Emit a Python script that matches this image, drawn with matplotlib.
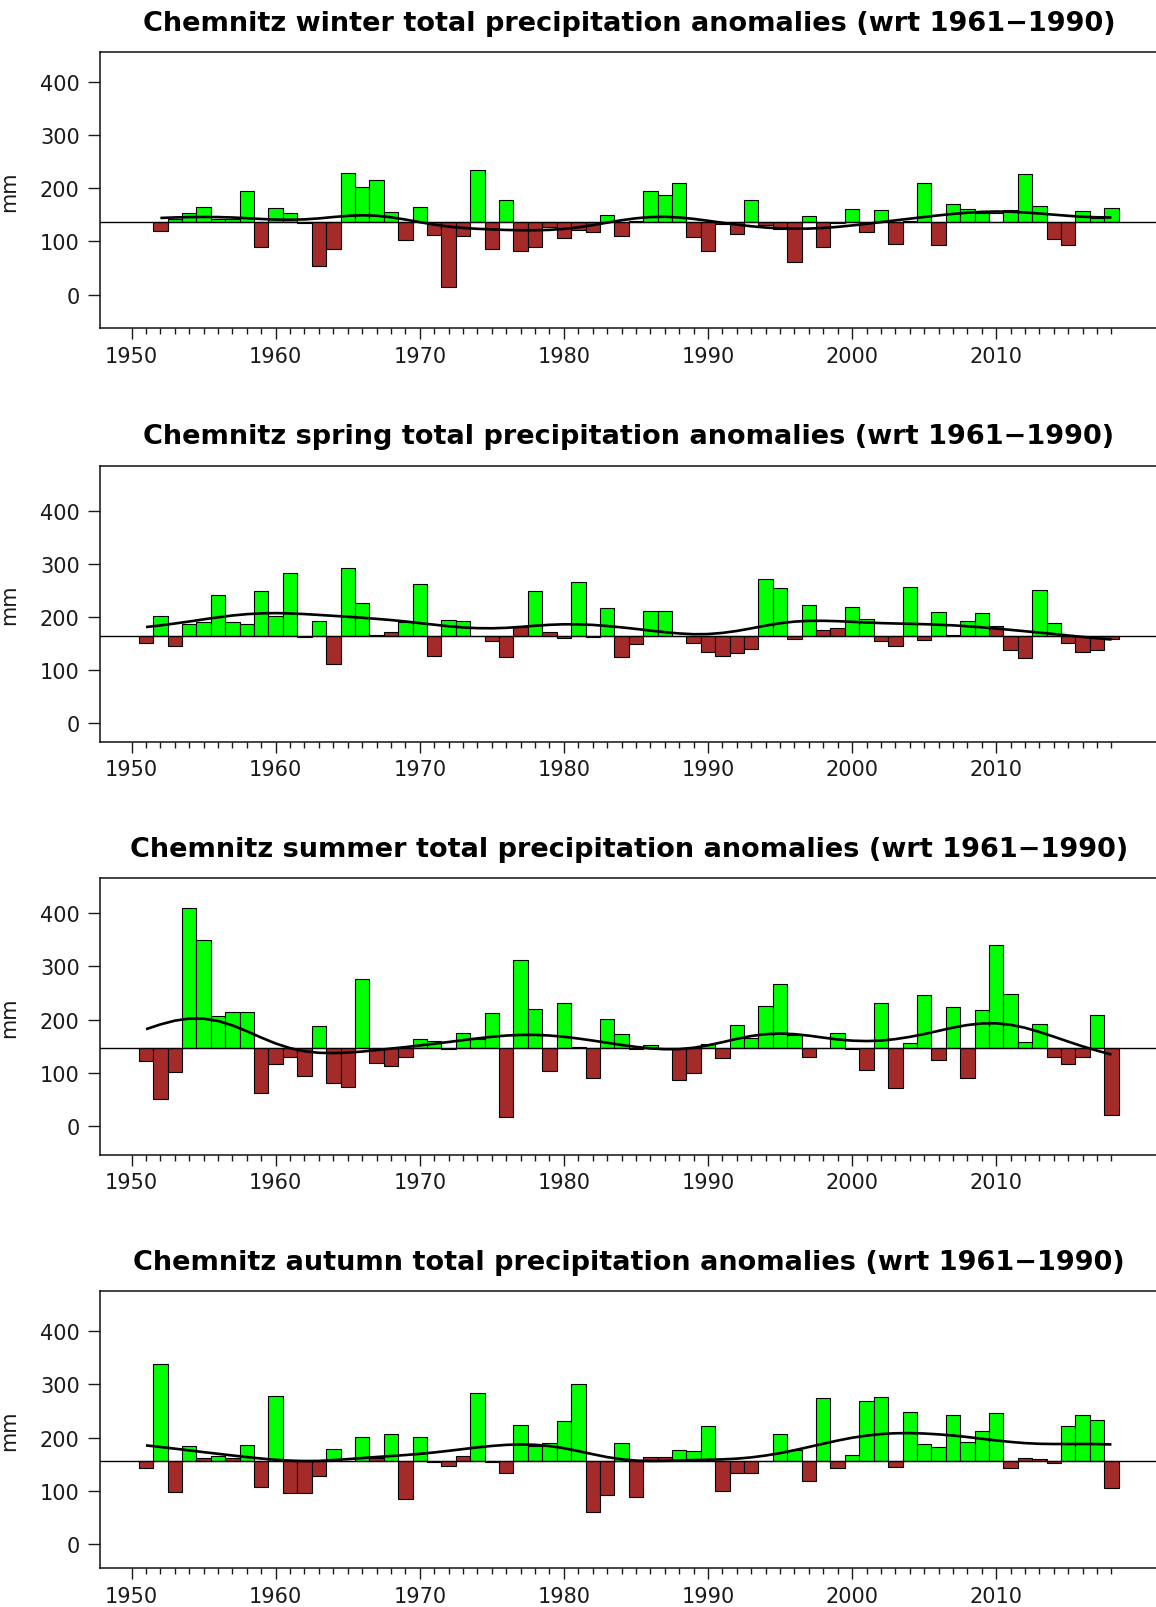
import numpy as np
import matplotlib
matplotlib.use("Agg")
import matplotlib.pyplot as plt

# ---------------- data (mm) ----------------
winter_years = list(range(1952, 2019))
winter_values = [120, 142, 153, 165, 142, 142, 195, 90, 162, 153,
                 134, 53, 86, 228, 202, 215, 155, 103, 165, 113,
                 15, 110, 234, 86, 177, 83, 89, 128, 106, 121,
                 118, 150, 111, 139, 195, 187, 210, 109, 83, 133,
                 114, 177, 130, 123, 61, 147, 90, 134, 160, 118,
                 159, 95, 139, 210, 93, 170, 161, 153, 153, 159,
                 227, 166, 104, 94, 158, 144, 162]
winter_white_years = [2010]

spring_years = list(range(1951, 2019))
spring_values = [152, 201, 145, 187, 190, 241, 190, 186, 249, 201,
                 282, 162, 193, 112, 293, 227, 166, 172, 190, 262,
                 127, 195, 193, 165, 154, 125, 182, 249, 172, 160,
                 265, 163, 217, 125, 150, 212, 212, 165, 152, 135,
                 127, 133, 140, 272, 254, 159, 222, 175, 179, 218,
                 196, 155, 146, 256, 156, 210, 167, 193, 207, 183,
                 137, 123, 250, 188, 151, 135, 137, 159]

summer_years = list(range(1951, 2019))
summer_values = [121, 50, 102, 411, 350, 207, 214, 215, 61, 116,
                 129, 93, 188, 81, 73, 276, 119, 113, 130, 164,
                 160, 144, 174, 164, 213, 16, 312, 220, 103, 232,
                 149, 89, 201, 172, 144, 152, 145, 86, 100, 154,
                 127, 190, 166, 226, 266, 171, 130, 146, 174, 145,
                 104, 232, 71, 156, 247, 124, 223, 90, 218, 341,
                 249, 157, 191, 130, 116, 130, 209, 21]

autumn_years = list(range(1951, 2019))
autumn_values = [143, 339, 97, 184, 161, 166, 161, 186, 108, 278,
                 96, 96, 128, 179, 157, 202, 161, 207, 85, 202,
                 155, 147, 165, 284, 155, 133, 224, 185, 189, 232,
                 301, 61, 93, 190, 88, 163, 163, 177, 174, 222,
                 99, 133, 133, 157, 207, 177, 119, 274, 142, 168,
                 269, 276, 145, 248, 188, 182, 242, 191, 213, 247,
                 143, 162, 160, 152, 222, 243, 234, 105]

seasons = ["winter", "spring", "summer", "autumn"]
season_years = [winter_years, spring_years, summer_years, autumn_years]
season_values = [winter_values, spring_values, summer_values, autumn_values]
# 1961-1990 reference means (horizontal line) and colour split levels
ref_means = [136, 165, 146, 155.5]
colour_split = [137, 184, 150.5, 165.5]

y_ticks = [0, 100, 200, 300, 400]
x_major = list(range(1950, 2011, 10))
x_minor = list(range(1950, 2019))

# ---------------- layout ----------------
W, H = 1156, 1608
fig = plt.figure(figsize=(W / 100, H / 100), dpi=100)

left_px, right_px = 100.3, 1157.6
panel_top_bottom = [(53.3, 329.3), (466.7, 742.7), (879.3, 1155.7), (1292.3, 1569.0)]
panel_ylims = [(-63, 455), (-34.6, 484.7), (-54.6, 466), (-45, 475)]
xlim = (1947.83, 2021.2)

GREEN = "#00FF00"
BROWN = "#A52A2A"
TXT = "#1a1a1a"


def gauss_smooth(vals, sigma=3.5):
    v = np.asarray(vals, dtype=float)
    n = len(v)
    idx = np.arange(n)
    out = np.empty(n)
    for i in range(n):
        w = np.exp(-0.5 * ((idx - i) / sigma) ** 2)
        w[np.abs(idx - i) > 3 * sigma] = 0
        out[i] = np.sum(w * v) / np.sum(w)
    return out


for k, season in enumerate(seasons):
    top, bot = panel_top_bottom[k]
    ax = fig.add_axes([left_px / W, 1 - bot / H, (right_px - left_px) / W, (bot - top) / H])
    yrs = np.array(season_years[k])
    vals = np.array(season_values[k], dtype=float)
    base = ref_means[k]
    cols = [GREEN if v > colour_split[k] else BROWN for v in vals]
    if season == "winter":
        for y in winter_white_years:
            cols[list(yrs).index(y)] = "white"
    ax.bar(yrs, vals - base, bottom=base, width=1.0, color=cols,
           edgecolor="black", linewidth=0.8, zorder=2)
    ax.axhline(base, color="black", linewidth=1.0, zorder=3)
    sm = gauss_smooth(vals, 3.5)
    ax.plot(yrs, sm, color="black", linewidth=1.9, zorder=4, solid_capstyle="butt")

    ax.set_xlim(*xlim)
    ax.set_ylim(*panel_ylims[k])
    ax.set_yticks(y_ticks)
    ax.set_yticklabels([str(t) for t in y_ticks])
    ax.set_xticks(x_major)
    ax.set_xticklabels([str(t) for t in x_major])
    ax.set_xticks(x_minor, minor=True)
    ax.tick_params(axis="x", which="major", length=7.7, width=1.0, pad=5.0,
                   labelsize=15, colors=TXT, direction="out")
    ax.tick_params(axis="x", which="minor", length=4.0, width=1.0, direction="out", colors=TXT)
    ax.tick_params(axis="y", which="major", length=8.3, width=1.0, pad=6.5,
                   labelsize=15, colors=TXT, direction="out")
    for s in ax.spines.values():
        s.set_linewidth(1.1)
        s.set_color("#111111")
    ax.set_ylabel("mm", fontsize=15, color=TXT)
    ax.yaxis.set_label_coords((19.5 - left_px) / (right_px - left_px), 0.5)

    title_y = top - 29.5
    fig.text((left_px + right_px) / 2 / W, 1 - title_y / H,
             f"Chemnitz {season} total precipitation anomalies (wrt 1961\u22121990)",
             ha="center", va="center", fontsize=19.5, fontweight="bold", color="black")

fig.savefig("out.png", dpi=100)
